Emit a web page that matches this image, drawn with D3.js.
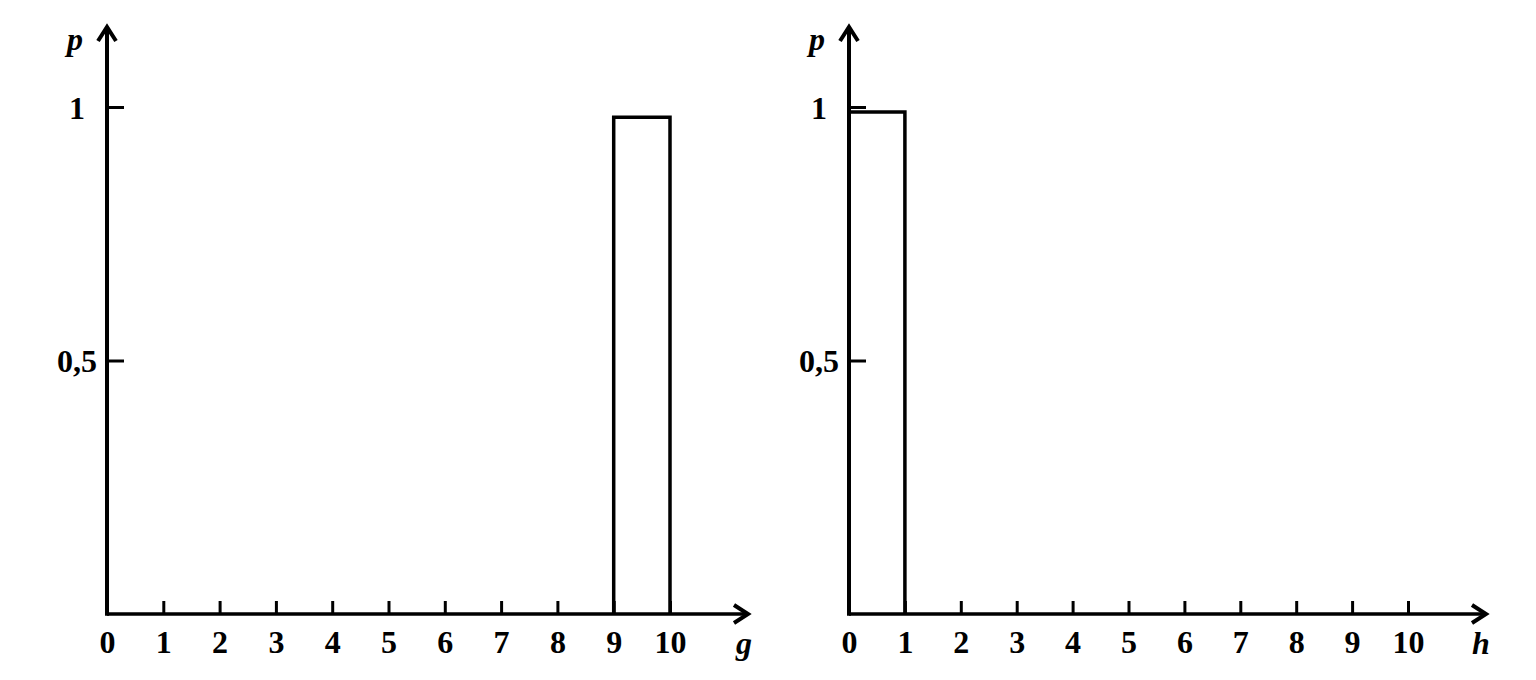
<!DOCTYPE html>
<html><head><meta charset="utf-8">
<script src="https://cdn.jsdelivr.net/npm/d3@7/dist/d3.min.js"></script>
<style>
html,body{margin:0;padding:0;background:#fff;}
svg text{font-family:"Liberation Serif","DejaVu Serif",serif;font-weight:bold;fill:#000;}
</style></head>
<body>
<svg id="c" width="1536" height="680"></svg>
<script>
// Data
const xTicks = [0,1,2,3,4,5,6,7,8,9,10];
const yTicks = [0.5, 1];
const yTickLabels = ["0,5", "1"];
const leftBarStart = [9];
const leftBarValue = [0.98];
const rightBarStart = [0];
const rightBarValue = [0.99];
const xLabels = ["g", "h"];
const yLabel = "p";

const svg = d3.select("#c");
const FS = 32;

const panels = [
  {x0: 107, x10: 670, arrowX: 748, bars: leftBarStart.map((s,i)=>({s, v: leftBarValue[i]})), label: xLabels[0], labelX: 736},
  {x0: 849, x10: 1408, arrowX: 1486, bars: rightBarStart.map((s,i)=>({s, v: rightBarValue[i]})), label: xLabels[1], labelX: 1472}
];

const yBase = 614, yOne = 107, yTop = 27;

panels.forEach(p => {
  const g = svg.append("g");
  const x = d3.scaleLinear().domain([0,10]).range([p.x0, p.x10]);
  const y = d3.scaleLinear().domain([0,1]).range([yBase, yOne]);

  // bars
  g.selectAll("path.bar").data(p.bars).join("path")
    .attr("class","bar")
    .attr("d", d => `M${x(d.s)},${y(0)}V${y(d.v)}H${x(d.s+1)}V${y(0)}`)
    .attr("fill","none").attr("stroke","#000").attr("stroke-width",3.5);

  // x axis
  const xa = g.append("g").attr("transform",`translate(0,${yBase})`)
    .call(d3.axisBottom(x).tickValues(xTicks).tickSizeInner(-13).tickSizeOuter(0).tickPadding(39).tickFormat(d3.format("d")));
  xa.select(".domain").remove();
  xa.selectAll(".tick line").attr("stroke","#000").attr("stroke-width",3);
  xa.selectAll(".tick text").attr("font-size",FS).attr("dy",0).attr("fill","#000")
    .attr("font-family",'"Liberation Serif",serif').attr("font-weight","bold");

  // y axis
  const ya = g.append("g").attr("transform",`translate(${p.x0},0)`)
    .call(d3.axisLeft(y).tickValues(yTicks).tickSizeInner(-17).tickSizeOuter(0).tickPadding(0).tickFormat((d,i)=>yTickLabels[i]));
  ya.select(".domain").remove();
  ya.selectAll(".tick line").attr("stroke","#000").attr("stroke-width",3);
  ya.selectAll(".tick text").attr("font-size",FS).attr("text-anchor","middle").attr("x",-30).attr("dy","0.35em")
    .attr("font-family",'"Liberation Serif",serif').attr("font-weight","bold");

  // axis lines with arrows
  g.append("line").attr("x1",p.x0).attr("y1",yBase).attr("x2",p.arrowX-2).attr("y2",yBase)
    .attr("stroke","#000").attr("stroke-width",3.5);
  g.append("path").attr("d",`M${p.arrowX-14},${yBase-9}L${p.arrowX},${yBase}L${p.arrowX-14},${yBase+9}`)
    .attr("fill","none").attr("stroke","#000").attr("stroke-width",4).attr("stroke-linejoin","miter");
  g.append("line").attr("x1",p.x0).attr("y1",yBase+1.75).attr("x2",p.x0).attr("y2",yTop+2)
    .attr("stroke","#000").attr("stroke-width",4);
  g.append("path").attr("d",`M${p.x0-9},${yTop+14}L${p.x0},${yTop}L${p.x0+9},${yTop+14}`)
    .attr("fill","none").attr("stroke","#000").attr("stroke-width",4).attr("stroke-linejoin","miter");

  // labels
  g.append("text").attr("x",p.x0-40).attr("y",50).attr("font-size",FS).attr("font-style","italic").text(yLabel);
  g.append("text").attr("x",p.labelX).attr("y",654).attr("font-size",FS).attr("font-style","italic").text(p.label);
});
</script>
</body></html>
